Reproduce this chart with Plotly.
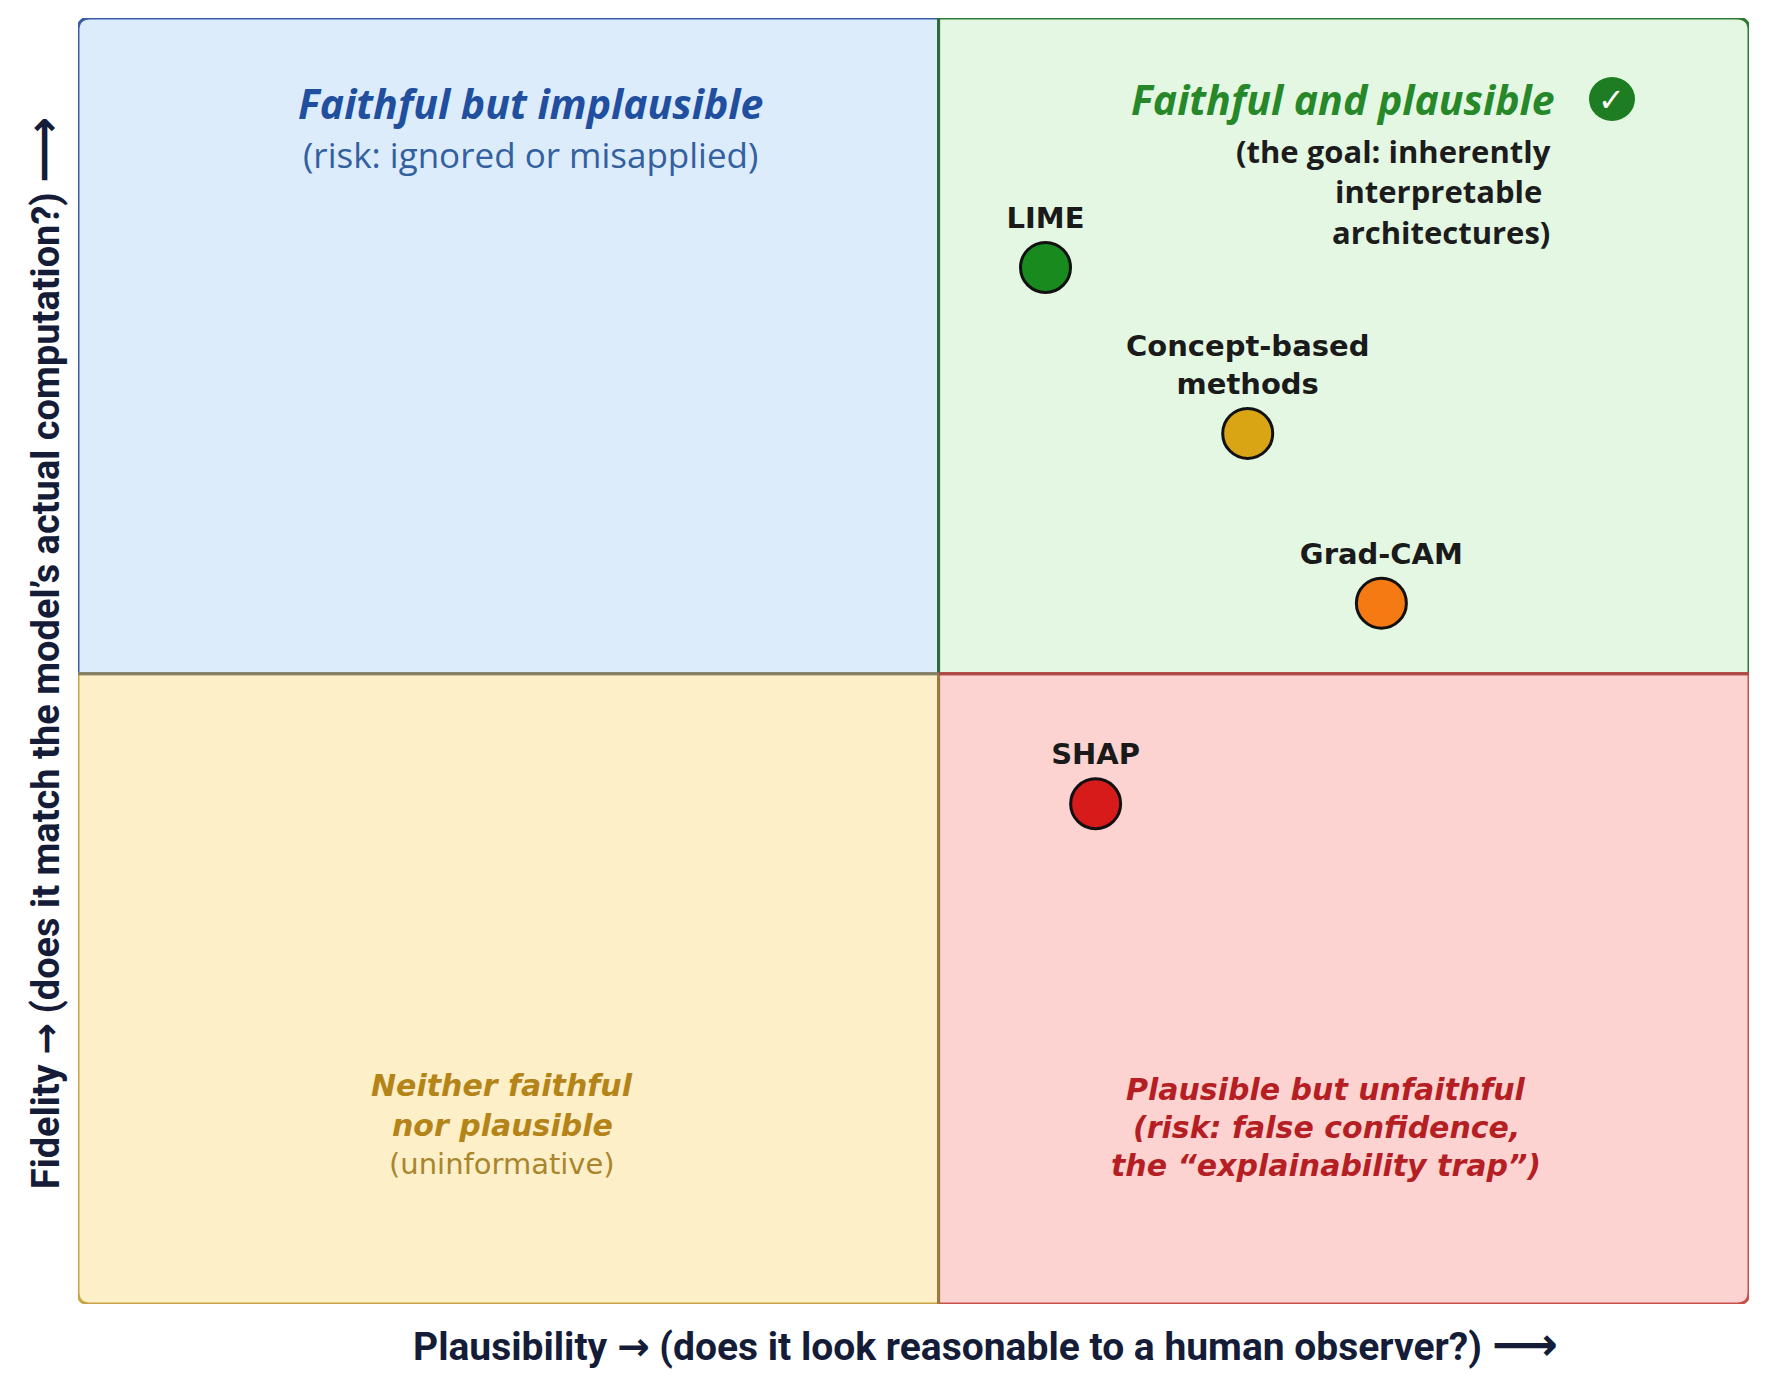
import plotly.graph_objects as go

# methods placed on the plausibility / fidelity plane
methods = ["LIME", "Concept-based<br>methods", "Grad-CAM", "SHAP"]
plausibility = [0.579, 0.700, 0.780, 0.609]
fidelity = [0.806, 0.677, 0.545, 0.389]
method_colors = ["#188a1e", "#d9a514", "#f57a14", "#d71b1b"]

# where the quadrants split
x_mid = 0.515
y_mid = 0.49

W, H = 1772, 1375
ML, MR, MT, MB = 70, 31, 10, 79
pw = W - ML - MR
ph = H - MT - MB

# corner radius in data units
rx = 12 / pw
ry = 12 / ph

fig = go.Figure()

quads = [
    # (fill, line, path)
    ("#dcecfb", "#3a5ea6",
     f"M 0,{y_mid} L 0,{1-ry} Q 0,1 {rx},1 L {x_mid},1 L {x_mid},{y_mid} Z"),
    ("#e3f7e2", "#2f7a34",
     f"M {x_mid},{y_mid} L {x_mid},1 L {1-rx},1 Q 1,1 1,{1-ry} L 1,{y_mid} Z"),
    ("#fdefc7", "#c9a446",
     f"M 0,{y_mid} L 0,{ry} Q 0,0 {rx},0 L {x_mid},0 L {x_mid},{y_mid} Z"),
    ("#fdd3d2", "#c8504b",
     f"M {x_mid},{y_mid} L {x_mid},0 L {1-rx},0 Q 1,0 1,{ry} L 1,{y_mid} Z"),
]
shapes = []
for fill, line, path in quads:
    shapes.append(dict(type="path", path=path, xref="x", yref="y",
                       fillcolor=fill, line=dict(color=line, width=3), layer="below"))

# inner divider lines, coloured by the quadrant next to them
shapes.append(dict(type="line", xref="x", yref="y", x0=x_mid, x1=x_mid, y0=y_mid, y1=1,
                   line=dict(color="#2f6b3a", width=3), layer="below"))
shapes.append(dict(type="line", xref="x", yref="y", x0=x_mid, x1=x_mid, y0=0, y1=y_mid,
                   line=dict(color="#9a7a3a", width=3), layer="below"))
shapes.append(dict(type="line", xref="x", yref="y", x0=0, x1=x_mid, y0=y_mid, y1=y_mid,
                   line=dict(color="#7f7f6a", width=3), layer="below"))
shapes.append(dict(type="line", xref="x", yref="y", x0=x_mid, x1=1, y0=y_mid, y1=y_mid,
                   line=dict(color="#b04848", width=3), layer="below"))

# green check badge
shapes.append(dict(type="circle", xref="x", yref="y", xsizemode="pixel", ysizemode="pixel",
                   xanchor=0.918, yanchor=0.937, x0=-23, x1=23, y0=-22, y1=22,
                   fillcolor="#1e7d22", line=dict(width=0)))

fig.add_trace(go.Scatter(
    x=plausibility, y=fidelity, mode="markers+text",
    text=methods, textposition="top center",
    textfont=dict(family="DejaVu Sans", size=29, color="#1a1a1a", weight="bold"),
    marker=dict(size=50, color=method_colors, line=dict(color="#111111", width=3)),
    hoverinfo="skip", showlegend=False,
))

ann = []


def label(x, y, text, size, color, family="DejaVu Sans", weight="normal", style="normal",
          xanchor="center", align="center"):
    ann.append(dict(x=x, y=y, xref="x", yref="y", text=text, showarrow=False,
                    xanchor=xanchor, yanchor="middle", align=align,
                    font=dict(family=family, size=size, color=color, weight=weight, style=style)))


# top-left
label(0.271, 0.934, "Faithful but implausible", 41, "#1f4f9e", "Open Sans", "bold", "italic")
label(0.271, 0.894, "(risk: ignored or misapplied)", 35, "#33609f", "Open Sans")

# top-right
label(0.757, 0.937, "Faithful and plausible", 41, "#27882a", "Open Sans", "bold", "italic")
label(0.918, 0.936, "✓", 32, "white", "DejaVu Sans", "bold")
label(0.883, 0.865, "(the goal: inherently<br>interpretable <br>architectures)", 31, "#1c1c1c",
      "Open Sans", "bold", xanchor="right", align="right")

# bottom-left
label(0.254, 0.170, "Neither faithful", 30, "#b58419", "DejaVu Sans", "bold", "italic")
label(0.254, 0.139, "nor plausible", 30, "#b58419", "DejaVu Sans", "bold", "italic")
label(0.254, 0.109, "(uninformative)", 29, "#a9852e", "DejaVu Sans")

# bottom-right
label(0.747, 0.167, "Plausible but unfaithful", 30, "#b51f24", "DejaVu Sans", "bold", "italic")
label(0.747, 0.137, "(risk: false confidence,", 30, "#b51f24", "DejaVu Sans", "bold", "italic")
label(0.747, 0.108, "the \u201cexplainability trap\u201d)", 30, "#b51f24", "DejaVu Sans", "bold", "italic")

# axis titles
arrow = "<span style='font-family:DejaVu Sans'>\u2192</span>"
long_arrow = "<span style='font-family:DejaVu Sans;font-size:46px'>\u27f6</span>"
ann.append(dict(x=0.543, y=-0.031, xref="paper", yref="paper", showarrow=False,
                text=f"Plausibility {arrow} (does it look reasonable to a human observer?) {long_arrow}",
                xanchor="center", yanchor="middle",
                font=dict(family="Liberation Sans Narrow, Roboto, sans-serif", size=39,
                          color="#141c38", weight="bold")))
ann.append(dict(x=-0.021, y=0.506, xref="paper", yref="paper", showarrow=False,
                text=f"Fidelity {arrow} (does it match the model\u2019s actual computation?) {long_arrow}",
                textangle=-90, xanchor="center", yanchor="middle",
                font=dict(family="Liberation Sans Narrow, Roboto, sans-serif", size=38,
                          color="#141c38", weight="bold")))

fig.update_layout(
    width=W, height=H,
    margin=dict(l=ML, r=MR, t=MT, b=MB),
    paper_bgcolor="white", plot_bgcolor="white",
    shapes=shapes, annotations=ann,
    xaxis=dict(range=[0, 1], visible=False, fixedrange=True),
    yaxis=dict(range=[0, 1], visible=False, fixedrange=True),
    showlegend=False,
)

fig.write_html("out.html")
